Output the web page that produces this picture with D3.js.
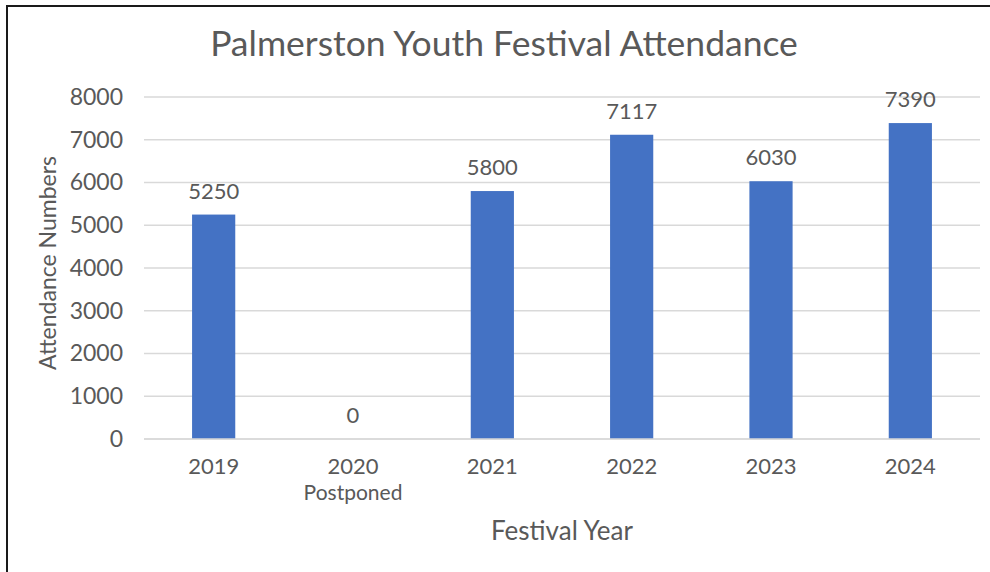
<!DOCTYPE html>
<html>
<head>
<meta charset="utf-8">
<script src="https://cdn.jsdelivr.net/npm/d3@7"></script>
<style>
  body { margin: 0; background: #fff; }
  svg text { font-family: Lato, "Open Sans", sans-serif; fill: #595959; }
</style>
</head>
<body>
<svg id="chart" width="990" height="572"></svg>
<script>
const years = ['2019', '2020', '2021', '2022', '2023', '2024'];
const subLabels = ['', 'Postponed', '', '', '', ''];
const attendance = [5250, 0, 5800, 7117, 6030, 7390];
const yTicks = [0, 1000, 2000, 3000, 4000, 5000, 6000, 7000, 8000];

const svg = d3.select('#chart');
const width = 990;
const height = 572;
const margin = { top: 97, right: 10, bottom: 133, left: 144 };

// frame (top and left edge only, as in the source)
svg.append('path')
  .attr('d', `M7,${height} L7,6 L${width},6`)
  .attr('fill', 'none')
  .attr('stroke', '#1a1a1a')
  .attr('stroke-width', 2);

const x = d3.scaleBand()
  .domain(years)
  .range([margin.left, width - margin.right])
  .paddingInner(0.69)
  .paddingOuter(0.345);

const y = d3.scaleLinear()
  .domain([0, 8000])
  .range([height - margin.bottom, margin.top]);

// gridlines
svg.append('g')
  .selectAll('line')
  .data(yTicks)
  .enter()
  .append('line')
  .attr('x1', margin.left)
  .attr('x2', width - margin.right)
  .attr('y1', (d) => y(d))
  .attr('y2', (d) => y(d))
  .attr('stroke', '#d9d9d9')
  .attr('stroke-width', 1.5);

// y axis labels
const yAxis = svg.append('g')
  .attr('transform', `translate(${margin.left},0)`)
  .call(d3.axisLeft(y).tickValues(yTicks).tickFormat(d3.format('d')).tickSize(0).tickPadding(21));
yAxis.select('.domain').remove();
yAxis.selectAll('text')
  .style('font-size', '23px')
  .attr('fill', '#595959');

// bars
svg.selectAll('rect.bar')
  .data(attendance)
  .enter()
  .append('rect')
  .attr('class', 'bar')
  .attr('x', (d, i) => x(years[i]))
  .attr('y', (d) => y(d))
  .attr('width', x.bandwidth())
  .attr('height', (d) => y(0) - y(d))
  .attr('fill', '#4472c4');

// data labels
svg.selectAll('text.val')
  .data(attendance)
  .enter()
  .append('text')
  .attr('class', 'val')
  .attr('x', (d, i) => x(years[i]) + x.bandwidth() / 2)
  .attr('y', (d) => y(d) - 16)
  .attr('text-anchor', 'middle')
  .style('font-size', '22px')
  .text((d) => d);

// x axis labels
const xAxis = svg.append('g')
  .attr('transform', `translate(0,${y(0)})`)
  .call(d3.axisBottom(x).tickSize(0).tickPadding(19));
xAxis.select('.domain').remove();
xAxis.selectAll('text')
  .style('font-size', '22px')
  .attr('fill', '#595959');

svg.selectAll('text.sub')
  .data(subLabels)
  .enter()
  .append('text')
  .attr('class', 'sub')
  .attr('x', (d, i) => x(years[i]) + x.bandwidth() / 2)
  .attr('y', 500)
  .attr('text-anchor', 'middle')
  .style('font-size', '21px')
  .text((d) => d);

// baseline
svg.append('line')
  .attr('x1', margin.left)
  .attr('x2', width - margin.right)
  .attr('y1', y(0))
  .attr('y2', y(0))
  .attr('stroke', '#d9d9d9')
  .attr('stroke-width', 1.5);

// titles
svg.append('text')
  .attr('x', 504)
  .attr('y', 56)
  .attr('text-anchor', 'middle')
  .style('font-size', '35.5px')
  .text('Palmerston Youth Festival Attendance');

svg.append('text')
  .attr('x', 562)
  .attr('y', 540)
  .attr('text-anchor', 'middle')
  .style('font-size', '26px')
  .text('Festival Year');

svg.append('text')
  .attr('transform', 'rotate(-90)')
  .attr('x', -263)
  .attr('y', 56)
  .attr('text-anchor', 'middle')
  .style('font-size', '23px')
  .text('Attendance Numbers');
</script>
</body>
</html>
